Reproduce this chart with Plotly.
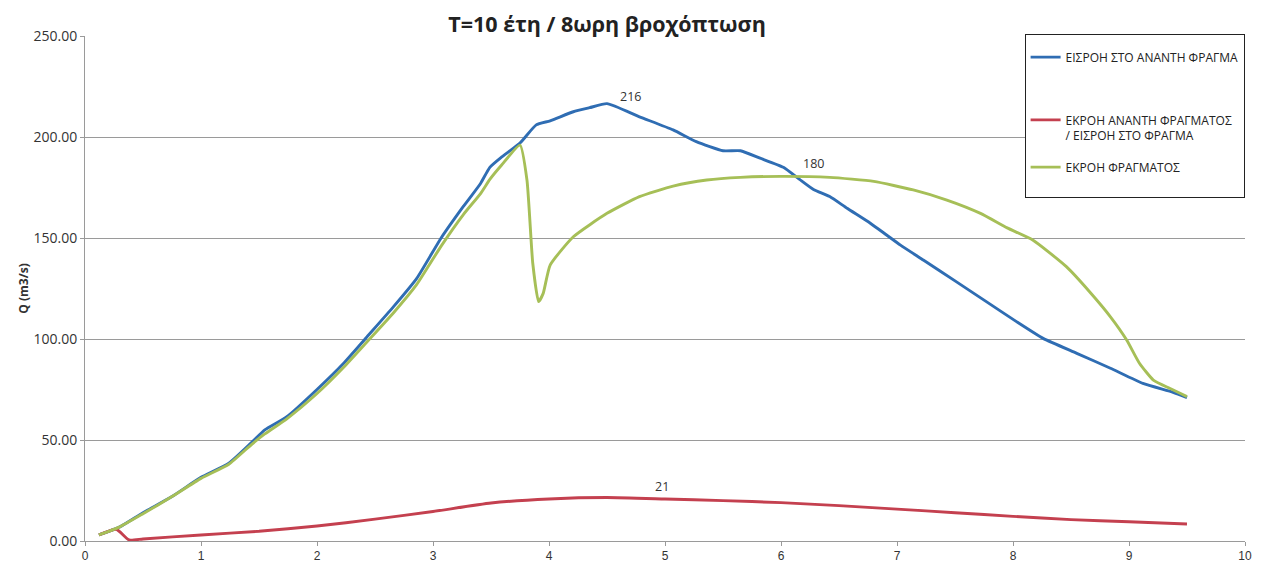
import plotly.graph_objects as go

# Time (hours) and discharges (m3/s)
x_inflow = [0.12, 0.3, 0.5, 0.75, 1.0, 1.24, 1.44, 1.55, 1.74, 2.0, 2.23, 2.43, 2.66, 2.86, 3.07, 3.26,
            3.41, 3.49, 3.59, 3.75, 3.89, 4.01, 4.21, 4.35, 4.5, 4.78, 5.07, 5.27, 5.5, 5.65, 5.82,
            6.02, 6.16, 6.28, 6.42, 6.57, 6.77, 6.91, 7.03, 7.23, 7.51, 7.77, 8.03, 8.26, 8.55,
            8.84, 9.12, 9.38, 9.5]
q_inflow = [3, 7, 14, 22, 31.5, 38.5, 49, 55, 61.5, 75, 88, 101, 116, 130, 150, 165.5,
            177, 185, 190, 197, 206, 208, 212.5, 214.5, 216.5, 210, 203.5, 197.7, 193.2, 193.2, 189.5,
            185, 179, 174, 170.5, 164.7, 157.3, 151.5, 146.5, 139, 128.4, 118.5, 108.6, 100.3, 92.9,
            85.5, 78, 73.6, 71]

x_upstream_out = [0.12, 0.27, 0.38, 0.5, 1.0, 1.5, 2.0, 2.5, 3.0, 3.5, 4.0, 4.5, 5.0, 5.5, 6.0,
                  6.5, 7.0, 7.5, 8.0, 8.5, 9.0, 9.5]
q_upstream_out = [3, 5.8, 0.5, 1.0, 3.0, 4.8, 7.4, 10.8, 14.6, 18.8, 20.8, 21.5, 20.8, 20.0, 19.0,
                  17.5, 15.8, 14.0, 12.2, 10.6, 9.5, 8.4]

x_dam_out = [0.12, 0.3, 0.5, 0.75, 1.0, 1.24, 1.44, 1.55, 1.74, 2.0, 2.23, 2.43, 2.66, 2.86, 3.07,
             3.26, 3.41, 3.49, 3.59, 3.75, 3.81, 3.86, 3.91, 3.95, 4.01, 4.21, 4.5, 4.78, 5.07,
             5.36, 5.65, 6.0, 6.42, 6.8, 7.14, 7.43, 7.72, 7.95, 8.17, 8.46, 8.66, 8.84, 8.98,
             9.09, 9.21, 9.35, 9.5]
q_dam_out = [3, 7, 13.5, 22, 31, 38, 48, 53, 60.5, 73, 86, 98.5, 113, 127, 146,
             161.5, 172, 179, 186, 196, 178.7, 137.5, 118.5, 122.6, 136.6, 150.6, 162.2, 170.5, 175.7,
             178.7, 180, 180.5, 180, 178, 173.8, 168.8, 162.2, 155, 149, 135.8, 123.4, 111, 99.5,
             88, 79.7, 75.6, 71.5]

names = ["ΕΙΣΡΟΗ ΣΤΟ ΑΝΑΝΤΗ ΦΡΑΓΜΑ<br> <br> ",
         "ΕΚΡΟΗ ΑΝΑΝΤΗ ΦΡΑΓΜΑΤΟΣ<br>/ ΕΙΣΡΟΗ ΣΤΟ ΦΡΑΓΜΑ",
         "ΕΚΡΟΗ ΦΡΑΓΜΑΤΟΣ<br> "]
colors = ["#2F6DB3", "#C4404F", "#A6BF57"]

labels_text = ["216", "180", "21"]
labels_x = [4.7, 6.28, 4.97]
labels_y = [220, 187, 27]

fig = go.Figure()
series = [(x_inflow, q_inflow), (x_upstream_out, q_upstream_out), (x_dam_out, q_dam_out)]
for i, ((xs, ys), nm, c) in enumerate(zip(series, names, colors)):
    fig.add_trace(go.Scatter(x=xs, y=ys, mode="lines", name=nm, legendgroup=f"g{i}",
                             line=dict(color=c, width=2.9, shape="spline", smoothing=0.5)))

for t, lx, ly in zip(labels_text, labels_x, labels_y):
    fig.add_annotation(x=lx, y=ly, text=t, showarrow=False,
                       font=dict(family="Open Sans, DejaVu Sans", size=12.5, color="#333333"))

fig.update_layout(
    width=1248, height=556,
    margin=dict(l=77, r=11, t=28, b=23, autoexpand=False),
    paper_bgcolor="white", plot_bgcolor="white",
    title=dict(text="<b>Τ=10 έτη / 8ωρη βροχόπτωση</b>", x=0.48, xanchor="center",
               y=0.971, yanchor="middle",
               font=dict(family="Open Sans, DejaVu Sans", size=21.5, color="#222222")),
    legend=dict(x=0.81, y=1.004, xanchor="left", yanchor="top", valign="top",
                bgcolor="white", bordercolor="#222222", borderwidth=1,
                tracegroupgap=13, itemwidth=30,
                title=dict(text=" ", font=dict(size=6)),
                font=dict(family="Open Sans, DejaVu Sans", size=12, color="#222222")),
    showlegend=True,
)
fig.update_xaxes(range=[0, 10], dtick=1, tick0=0, showgrid=False, showline=True, automargin=False,
                 linecolor="#9a9a9a", linewidth=1, ticks="outside", ticklen=4, tickcolor="#9a9a9a",
                 zeroline=False,
                 tickfont=dict(family="Liberation Sans Narrow, Liberation Sans", size=12, color="#333333"))
fig.update_yaxes(range=[0, 250], dtick=50, tickformat=".2f", showgrid=True, gridcolor="#9a9a9a",
                 gridwidth=1, showline=True, linecolor="#9a9a9a", linewidth=1, ticks="outside",
                 ticklen=4, tickcolor="#9a9a9a", zeroline=False, automargin=False,
                 title=dict(text="<b>Q (m3/s)</b>", standoff=2,
                            font=dict(family="Open Sans, DejaVu Sans", size=12, color="#333333")),
                 tickfont=dict(family="Open Sans, DejaVu Sans", size=14, color="#333333"))

fig.write_html("out.html")
